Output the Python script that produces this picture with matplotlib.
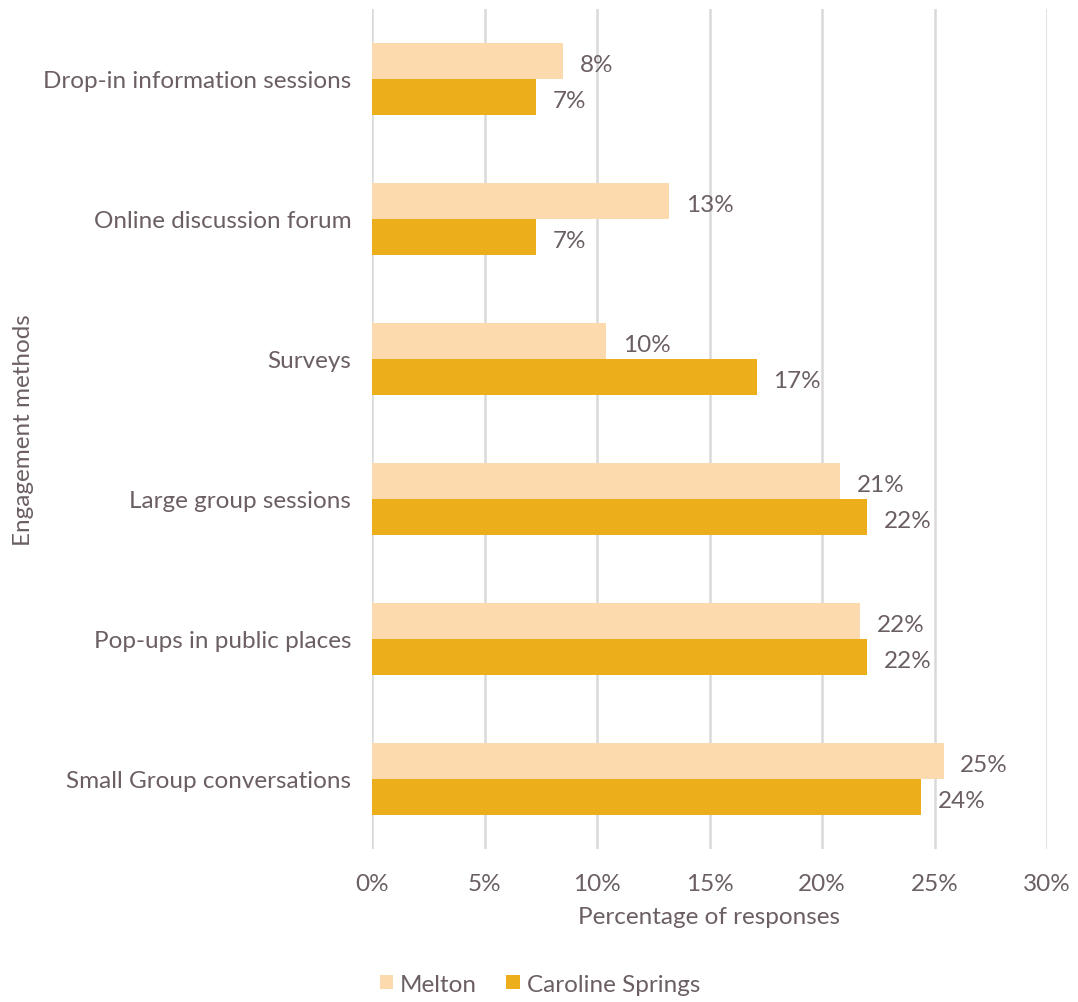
import matplotlib
matplotlib.use("Agg")
import matplotlib.pyplot as plt
import numpy as np

categories = [
    "Drop-in information sessions",
    "Online discussion forum",
    "Surveys",
    "Large group sessions",
    "Pop-ups in public places",
    "Small Group conversations",
]
melton = [8.5, 13.2, 10.4, 20.8, 21.7, 25.4]
caroline_springs = [7.3, 7.3, 17.1, 22.0, 22.0, 24.4]
series_names = ["Melton", "Caroline Springs"]
x_ticks = [0, 5, 10, 15, 20, 25, 30]

text_color = "#6b5f64"
colors = ["#FDD9AE", "#ECAE1A"]
fs = 17.5

plt.rcParams["font.family"] = ["Lato", "DejaVu Sans"]

fig = plt.figure(figsize=(10.78, 10.03), dpi=100)
ax = fig.add_axes([372 / 1078, 1 - 850 / 1003, (1047 - 372) / 1078, 840 / 1003])

y = np.arange(len(categories))
h = 0.26
bars_m = ax.barh(y - h / 2, melton, height=h, color=colors[0], label=series_names[0], zorder=3)
bars_c = ax.barh(y + h / 2, caroline_springs, height=h, color=colors[1], label=series_names[1], zorder=3)

# value labels just right of each bar end
for bars, vals in ((bars_m, melton), (bars_c, caroline_springs)):
    for b, v in zip(bars, vals):
        ax.annotate(f"{v:.0f}%", xy=(v, b.get_y() + b.get_height() / 2),
                    xytext=(12, -2.5), textcoords="offset points",
                    va="center", ha="left", fontsize=fs, color=text_color)

ax.set_xlim(0, 30)
ax.set_ylim(len(categories) - 0.5, -0.5)
ax.set_xticks(x_ticks)
ax.set_xticklabels([f"{t}%" for t in x_ticks])
ax.set_yticks(y)
ax.set_yticklabels(categories)
ax.tick_params(axis="both", length=0, labelsize=fs, colors=text_color)
ax.tick_params(axis="x", pad=17)
ax.tick_params(axis="y", pad=15)
for s in ax.spines.values():
    s.set_visible(False)
ax.grid(axis="x", color="#d9d9d9", linewidth=1.8, zorder=0)
ax.set_axisbelow(True)

ax.set_xlabel("Percentage of responses", fontsize=fs, color=text_color, labelpad=9)
fig.text(24 / 1078, 1 - 430 / 1003, "Engagement methods", rotation=90,
         ha="center", va="center", fontsize=fs, color=text_color)

leg = fig.legend(handles=[bars_m, bars_c], labels=series_names, loc="center",
                 bbox_to_anchor=(540 / 1078, 1 - 985 / 1003), ncol=2, frameon=False,
                 fontsize=fs, handlelength=0.55, handleheight=0.55, handletextpad=0.3,
                 columnspacing=1.2)
for t in leg.get_texts():
    t.set_color(text_color)

fig.savefig("out.png", dpi=100)
